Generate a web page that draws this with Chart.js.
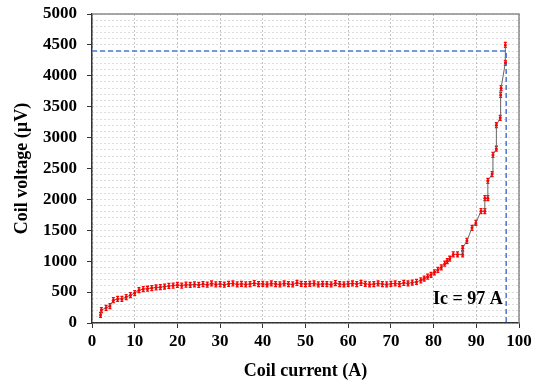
<!DOCTYPE html>
<html>
<head>
<meta charset="utf-8">
<script src="https://cdn.jsdelivr.net/npm/chart.js@4.4.1/dist/chart.umd.min.js"></script>
<style>
  html, body { margin: 0; padding: 0; background: #fff; }
  #wrap { width: 540px; height: 382px; }
</style>
</head>
<body>
<div id="wrap"><canvas id="mycanvas" width="540" height="382"></canvas></div>
<script>
// measured points: coil current (A) and coil voltage (µV)
var current = [
  2, 2.2, 3.3, 4.2, 5, 6, 7, 8, 9, 10, 11, 12, 13, 14, 15, 16, 17, 18, 19, 20,
  21, 22, 23, 24, 25, 26, 27, 28, 29, 30, 31, 32, 33, 34, 35, 36, 37, 38, 39, 40,
  41, 42, 43, 44, 45, 46, 47, 48, 49, 50, 51, 52, 53, 54, 55, 56, 57, 58, 59, 60,
  61, 62, 63, 64, 65, 66, 67, 68, 69, 70, 71, 72, 73, 74, 75, 76,
  77, 77.8, 78.6, 79.4, 80.2, 81, 81.8, 82.6, 83.2, 83.8, 84.6, 85.6, 86.8, 86.8,
  87.8, 89, 89.9, 91.1, 92, 92, 92.7, 92.7, 93.7, 93.9, 94.7, 94.7, 95.6, 95.7,
  95.8, 96.8, 96.8
];
var voltage = [
  130, 210, 245, 275, 370, 390, 390, 420, 450, 485, 530, 550, 555, 565, 575, 580, 590, 600, 605, 615,
  605, 620, 615, 625, 615, 630, 620, 640, 625, 630, 620, 635, 640, 625, 635, 625, 630, 645, 630, 635,
  625, 640, 630, 625, 640, 630, 625, 650, 635, 630, 635, 640, 625, 635, 630, 625, 645, 630, 625, 635,
  640, 630, 650, 635, 625, 630, 640, 630, 625, 635, 640, 630, 650, 640, 655, 665,
  690, 720, 750, 780, 820, 860, 900, 960, 1000, 1040, 1110, 1110, 1110, 1210,
  1330, 1540, 1620, 1810, 1810, 2020, 2020, 2300, 2410, 2720, 2820, 3200, 3320, 3690,
  3800, 4210, 4500
];
var errorBar = 40;

// critical current marker
var icCurrent = 97;
var icVoltage = 4400;
var icLabel = 'Ic = 97 A';

var xTicks = [0, 10, 20, 30, 40, 50, 60, 70, 80, 90, 100];
var yMajor = 500;

var points = [];
for (var i = 0; i < current.length; i++) {
  points.push({ x: current[i], y: voltage[i] });
}

var serif = 'Liberation Serif';

var extras = {
  id: 'extras',
  beforeDatasetsDraw: function(chart) {
    var ctx = chart.ctx;
    var y = chart.scales.y;
    var meta = chart.getDatasetMeta(0);
    ctx.save();
    ctx.strokeStyle = '#ff0000';
    ctx.lineWidth = 1.3;
    meta.data.forEach(function(pt, i) {
      var top = y.getPixelForValue(voltage[i] + errorBar);
      var bot = y.getPixelForValue(voltage[i] - errorBar);
      ctx.beginPath();
      ctx.moveTo(pt.x, top); ctx.lineTo(pt.x, bot);
      ctx.moveTo(pt.x - 1.5, top); ctx.lineTo(pt.x + 1.5, top);
      ctx.moveTo(pt.x - 1.5, bot); ctx.lineTo(pt.x + 1.5, bot);
      ctx.stroke();
    });
    ctx.restore();
  },
  afterDraw: function(chart) {
    var ctx = chart.ctx;
    var a = chart.chartArea;
    ctx.save();
    ctx.strokeStyle = '#8a8a8a';
    ctx.lineWidth = 1.5;
    ctx.beginPath();
    ctx.moveTo(a.left, a.top); ctx.lineTo(a.right, a.top); ctx.lineTo(a.right, a.bottom);
    ctx.stroke();
    ctx.fillStyle = '#000';
    ctx.font = 'bold 18px "' + serif + '"';
    ctx.textAlign = 'center';
    ctx.textBaseline = 'middle';
    ctx.fillText(icLabel, chart.scales.x.getPixelForValue(88), chart.scales.y.getPixelForValue(380));
    ctx.restore();
  }
};

var ctx = document.getElementById('mycanvas');
var chart = new Chart(ctx, {
  type: 'scatter',
  data: {
    datasets: [
      {
        label: 'Coil voltage',
        data: points,
        showLine: true,
        borderColor: '#666',
        borderWidth: 1,
        pointRadius: 1.5,
        pointBackgroundColor: '#ff0000',
        pointBorderColor: '#ff0000',
        pointBorderWidth: 0
      },
      {
        label: 'Ic',
        data: [{ x: 0, y: icVoltage }, { x: icCurrent, y: icVoltage }, { x: icCurrent, y: 0 }],
        showLine: true,
        borderColor: '#4a78d6',
        borderWidth: 1.5,
        borderDash: [5, 3],
        pointRadius: 0
      }
    ]
  },
  options: {
    responsive: false,
    animation: false,
    layout: { padding: { left: 10, right: 21, top: 14, bottom: 0 } },
    plugins: { legend: { display: false }, tooltip: { enabled: false } },
    scales: {
      x: {
        type: 'linear',
        min: 0, max: 100,
        afterBuildTicks: function(s) { s.ticks = xTicks.map(function(v) { return { value: v }; }); },
        afterFit: function(s) { s.height = 59; s.paddingLeft = 0; s.paddingRight = 0; },
        ticks: { color: '#000', padding: 3, font: { family: serif, size: 17, weight: 'bold' } },
        grid: { color: '#c2c2c2', lineWidth: 1, tickLength: 5, tickColor: '#333' },
        border: { color: '#333', width: 1.5, dash: [2, 2] },
        title: { display: true, text: 'Coil current (A)', color: '#000', padding: 0,
                 font: { family: serif, size: 18, weight: 'bold' } }
      },
      y: {
        min: 0, max: 5000,
        afterFit: function(s) { s.width = 82; s.paddingTop = 0; s.paddingBottom = 0; },
        ticks: {
          stepSize: 100, autoSkip: false, color: '#000', padding: 10,
          font: { family: serif, size: 17, weight: 'bold' },
          callback: function(v) { return v % yMajor === 0 ? v : ''; }
        },
        grid: {
          color: '#b8b8b8', lineWidth: 1, tickLength: 5,
          tickColor: function(c) { return c.tick && c.tick.value % yMajor === 0 ? '#333' : 'rgba(0,0,0,0)'; }
        },
        border: { color: '#333', width: 1.5, dash: [1, 3] },
        title: { display: true, text: 'Coil voltage (µV)', color: '#000', padding: { top: 2, bottom: 0 },
                 font: { family: serif, size: 18, weight: 'bold' } }
      }
    }
  },
  plugins: [extras]
});
</script>
</body>
</html>
